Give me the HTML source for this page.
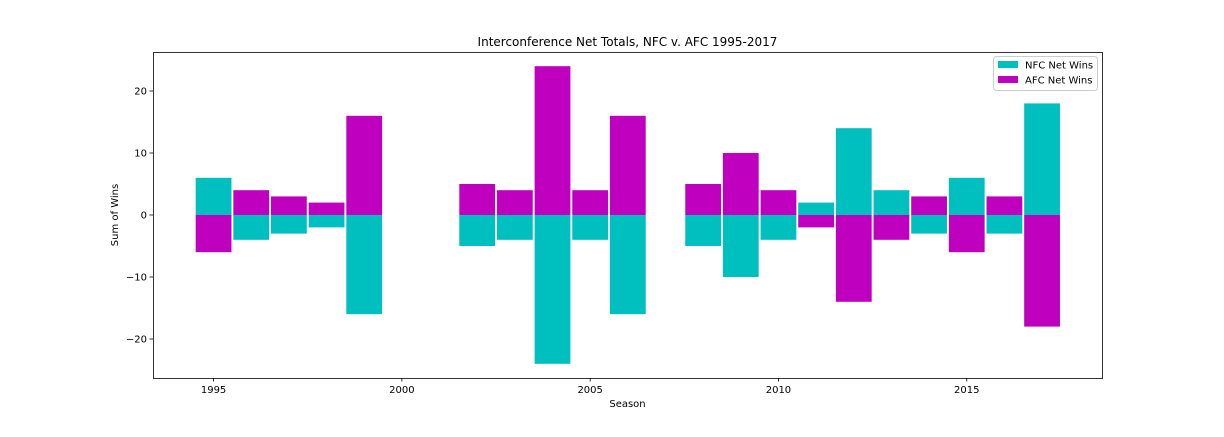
<!DOCTYPE html>
<html><head><meta charset="utf-8"><style>
body{margin:0;background:#fff;font-family:"Liberation Sans","DejaVu Sans",sans-serif}
svg text{font-family:"DejaVu Sans","Liberation Sans",sans-serif}
</style></head><body>
<svg id="c" width="1224" height="432" xmlns="http://www.w3.org/2000/svg"></svg>
<script>
const years=[1995,1996,1997,1998,1999,2000,2001,2002,2003,2004,2005,2006,2007,2008,2009,2010,2011,2012,2013,2014,2015,2016,2017];
const nfc=[6,-4,-3,-2,-16,0,0,-5,-4,-24,-4,-16,0,-5,-10,-4,2,14,4,-3,6,-3,18];
const afc=[-6,4,3,2,16,0,0,5,4,24,4,16,0,5,10,4,-2,-14,-4,3,-6,3,-18];
const xTicks=[1995,2000,2005,2010,2015];
const yTicks=[-20,-10,0,10,20];
const L=153,R=1102,T=52,B=378;
const x=v=>L+0.7+(v-1993.41)/(2018.61-1993.41)*(R-L);
const y=v=>215-v*6.2;
const svg=document.getElementById('c');const NS='http://www.w3.org/2000/svg';
function mk(t,a,p){const e=document.createElementNS(NS,t);for(const k in a)e.setAttribute(k,a[k]);(p||svg).appendChild(e);return e;}
const bw=0.95*(x(1)-x(0));
years.forEach((yr,i)=>{
  [[nfc[i],'#00bfbf','nfc'],[afc[i],'#bf00bf','afc']].forEach(([v,c,n])=>{
    if(v===0)return;
    const r=mk('rect',{x:x(yr)-bw/2,y:Math.min(y(v),y(0)),width:bw,height:Math.abs(y(v)-y(0)),fill:c});
    
    
  });
});
const f=mk('rect',{x:L+0.5,y:T+0.5,width:R-L,height:B-T,fill:'none',stroke:'#000','stroke-width':0.8});


xTicks.forEach(t=>{mk('line',{x1:x(t),x2:x(t),y1:B,y2:B+3.5,stroke:'#000','stroke-width':0.8});
  const e=mk('text',{x:x(t),y:B+15,'font-size':10,'text-anchor':'middle'});e.textContent=t;
  
  });
yTicks.forEach(t=>{mk('line',{x1:L-3.5,x2:L,y1:y(t),y2:y(t),stroke:'#000','stroke-width':0.8});
  const e=mk('text',{x:L-6,y:y(t)+3.5,'font-size':10,'text-anchor':'end'});e.textContent=t<0?'\u2212'+(-t):t;
  
  });
let e=mk('text',{x:(L+R)/2,y:46,'font-size':12,'text-anchor':'middle'});e.textContent='Interconference Net Totals, NFC v. AFC 1995-2017';


e=mk('text',{x:(L+R)/2,y:407,'font-size':10,'text-anchor':'middle'});e.textContent='Season';


e=mk('text',{x:0,y:0,'font-size':10,'text-anchor':'middle',transform:`translate(118,215) rotate(-90)`});e.textContent='Sum of Wins';


const g=mk('g',{});


mk('rect',{x:993.5,y:56.5,width:104,height:34,rx:3,fill:'#fff',stroke:'#ccc'},g);
[['NFC Net Wins','#00bfbf',65],['AFC Net Wins','#bf00bf',80]].forEach(([t,c,yy])=>{
  mk('rect',{x:998,y:yy-4,width:20,height:7,fill:c},g);
  const tx=mk('text',{x:1025,y:yy+3.5,'font-size':10},g);tx.textContent=t;
  
  
});
</script>
</body></html>
